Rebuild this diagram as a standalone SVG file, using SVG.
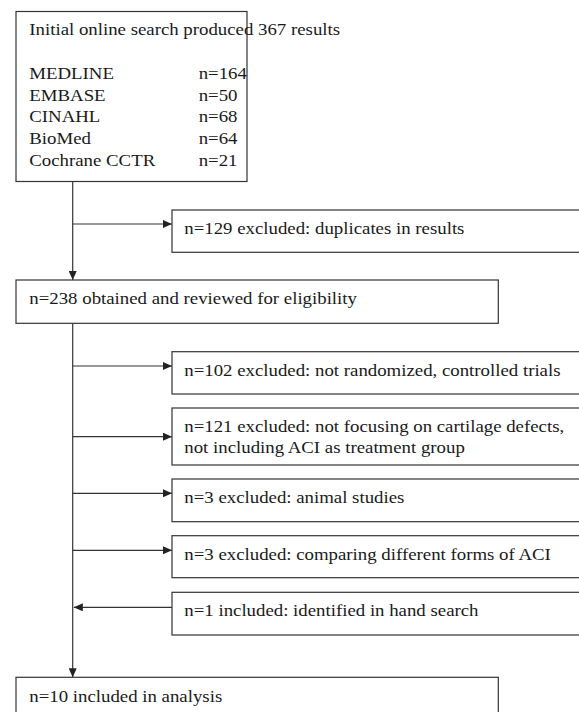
<svg xmlns="http://www.w3.org/2000/svg" width="579" height="712" viewBox="0 0 579 712">
<style>
  .box { fill: #ffffff; stroke: #333333; stroke-width: 1.2; }
  .lbl { font-family: "Liberation Serif", "Times New Roman", serif; font-size: 17px; fill: #1a1a1a; }
  .con { fill: none; stroke: #333333; stroke-width: 1.2; }
</style>
<defs>
  <marker id="arr" markerUnits="userSpaceOnUse" markerWidth="9" markerHeight="8" refX="9" refY="4" orient="auto">
    <path d="M0,0 L9,4 L0,8 Z" fill="#222222"/>
  </marker>
</defs>
<rect width="579" height="712" fill="#ffffff"/>

<g id="connectors">
  <path class="con" d="M72.7,181.5 V280" marker-end="url(#arr)"/>
  <path class="con" d="M72.7,323.3 V677.3" marker-end="url(#arr)"/>
  <path class="con" d="M72.7,224 H172" marker-end="url(#arr)"/>
  <path class="con" d="M72.7,366 H172" marker-end="url(#arr)"/>
  <path class="con" d="M72.7,436.7 H172" marker-end="url(#arr)"/>
  <path class="con" d="M72.7,493.3 H172" marker-end="url(#arr)"/>
  <path class="con" d="M72.7,550.3 H172" marker-end="url(#arr)"/>
  <path class="con" d="M172,607.3 H73.8" marker-end="url(#arr)"/>
</g>

<g id="search">
  <rect class="box" x="16" y="11.5" width="231" height="170"/>
  <text class="lbl" transform="translate(29.3,35) scale(1.107,1)">Initial online search produced 367 results</text>
  <text class="lbl" transform="translate(29.3,79) scale(1.107,1)">MEDLINE</text>
  <text class="lbl" transform="translate(29.3,100.7) scale(1.107,1)">EMBASE</text>
  <text class="lbl" transform="translate(29.3,122.3) scale(1.107,1)">CINAHL</text>
  <text class="lbl" transform="translate(29.3,144) scale(1.107,1)">BioMed</text>
  <text class="lbl" transform="translate(29.3,165.6) scale(1.107,1)">Cochrane CCTR</text>
  <text class="lbl" transform="translate(198.7,79) scale(1.107,1)">n=164</text>
  <text class="lbl" transform="translate(198.7,100.7) scale(1.107,1)">n=50</text>
  <text class="lbl" transform="translate(198.7,122.3) scale(1.107,1)">n=68</text>
  <text class="lbl" transform="translate(198.7,144) scale(1.107,1)">n=64</text>
  <text class="lbl" transform="translate(198.7,165.6) scale(1.107,1)">n=21</text>
</g>

<g id="duplicates">
  <rect class="box" x="172" y="210" width="420" height="42.3"/>
  <text class="lbl" transform="translate(184.3,234) scale(1.107,1)">n=129 excluded: duplicates in results</text>
</g>

<g id="reviewed">
  <rect class="box" x="16" y="280" width="482.3" height="43.3"/>
  <text class="lbl" transform="translate(29.3,304) scale(1.107,1)">n=238 obtained and reviewed for eligibility</text>
</g>

<g id="not-rct">
  <rect class="box" x="172" y="351.7" width="420" height="42.3"/>
  <text class="lbl" transform="translate(184.3,375.5) scale(1.107,1)">n=102 excluded: not randomized, controlled trials</text>
</g>

<g id="not-focusing">
  <rect class="box" x="172" y="408" width="420" height="57"/>
  <text class="lbl" transform="translate(184.3,431.7) scale(1.107,1)">n=121 excluded: not focusing on cartilage defects,</text>
  <text class="lbl" transform="translate(184.3,453.3) scale(1.107,1)">not including ACI as treatment group</text>
</g>

<g id="animal">
  <rect class="box" x="172" y="479" width="420" height="42.7"/>
  <text class="lbl" transform="translate(184.3,502.5) scale(1.107,1)">n=3 excluded: animal studies</text>
</g>

<g id="comparing">
  <rect class="box" x="172" y="535.7" width="420" height="42"/>
  <text class="lbl" transform="translate(184.3,559.5) scale(1.107,1)">n=3 excluded: comparing different forms of ACI</text>
</g>

<g id="hand-search">
  <rect class="box" x="172" y="592.3" width="420" height="42.7"/>
  <text class="lbl" transform="translate(184.3,616) scale(1.107,1)">n=1 included: identified in hand search</text>
</g>

<g id="analysis">
  <rect class="box" x="16" y="677.3" width="482.3" height="50"/>
  <text class="lbl" transform="translate(29.3,701.5) scale(1.107,1)">n=10 included in analysis</text>
</g>
</svg>
